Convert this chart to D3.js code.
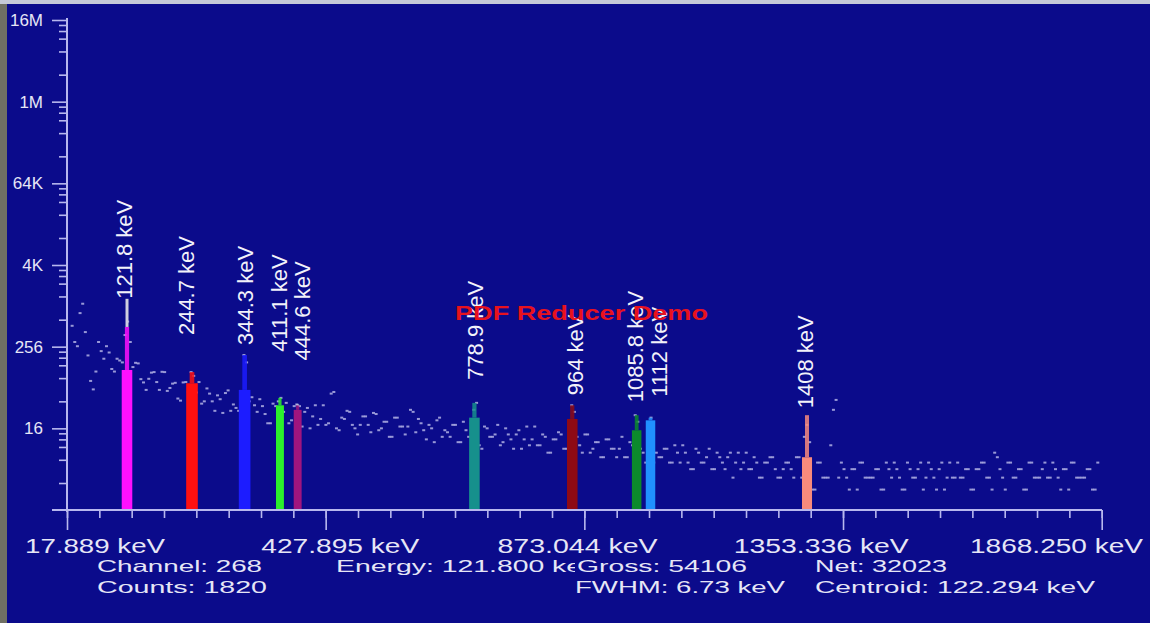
<!DOCTYPE html>
<html>
<head>
<meta charset="utf-8">
<script src="https://cdnjs.cloudflare.com/ajax/libs/d3/7.8.5/d3.min.js"></script>
<style>
  body { margin: 0; background: #0b0b8b; overflow: hidden; }
  text { font-family: "Liberation Sans", Arial, sans-serif; }
</style>
</head>
<body>
<div id="chart"></div>
<script>
var svgWidth = 1150;
var svgHeight = 623;

// spectrum, two interleaved readings (keV start, 10 keV apart)
var spectrumStartA = 18;
var spectrumStartB = 23;
var spectrumStep = 10;
var spectrumCountsA = [
    520, 260, 1100, 190, 60, 300, 170, 210, 110, 160,
    380, 300, 148, 85, 59, 106, 77, 109, 57, 73,
    44, 76, 55, 95, 77, 40, 52, 29, 43, 53,
    29, 32, 42, 150, 46, 28, 34, 19, 37, 40,
    28, 19, 34, 34, 28, 16, 35, 22, 18, 52,
    16, 23, 29, 18, 13, 24, 18, 27, 15, 20,
    12, 23, 17, 13, 30, 14, 19, 11, 16, 21,
    12, 14, 18, 10, 20, 12, 30, 9, 17, 12,
    13, 9, 16, 11, 13, 8, 17, 11, 9, 13,
    7, 11, 14, 8, 6, 28, 9, 13, 7, 10,
    6, 11, 8, 6, 12, 6, 9, 20, 7, 18,
    5, 6, 8, 5, 9, 5, 7, 4, 8, 5,
    6, 4, 7, 5, 6, 3, 7, 5, 4, 6,
    3, 5, 6, 4, 3, 5, 4, 6, 3, 18,
    2, 5, 3, 3, 30, 3, 4, 2, 4, 5,
    3, 3, 4, 2, 5, 3, 4, 2, 5, 3,
    4, 2, 5, 3, 4, 2, 5, 3, 3, 4,
    2, 4, 5, 3, 2, 6, 3, 5, 3, 4,
    2, 5, 3, 3, 5, 3, 4, 2, 4, 5,
    3, 3, 4, 2, 5
];
var spectrumCountsB = [
    300, 800, 420, 80, 110, 220, 260, 120, 170, 150,
    600, 128, 145, 76, 86, 108, 59, 108, 63, 75,
    41, 77, 108, 54, 37, 62, 40, 49, 27, 58,
    36, 29, 193, 40, 35, 43, 26, 19, 34, 45,
    38, 21, 36, 17, 32, 24, 18, 35, 19, 55,
    15, 22, 28, 16, 18, 24, 14, 26, 16, 20,
    12, 23, 17, 17, 28, 22, 15, 18, 10, 23,
    15, 12, 18, 10, 15, 19, 38, 8, 16, 12,
    18, 10, 13, 8, 15, 11, 9, 17, 9, 12,
    7, 11, 13, 8, 35, 12, 7, 13, 8, 10,
    6, 11, 8, 8, 6, 10, 25, 8, 5, 23,
    7, 6, 8, 5, 7, 9, 5, 4, 7, 5,
    8, 4, 6, 4, 7, 5, 4, 7, 4, 5,
    3, 5, 6, 3, 4, 5, 3, 6, 12, 10,
    2, 5, 3, 9, 42, 5, 3, 4, 2, 5,
    3, 3, 4, 2, 4, 5, 3, 2, 4, 3,
    5, 3, 4, 2, 5, 3, 3, 5, 3, 4,
    2, 4, 5, 3, 7, 4, 2, 5, 3, 4,
    2, 5, 3, 4, 3, 5, 3, 4, 2, 5,
    3, 3, 4, 2
];

// marked peaks (ROI)
var peakEnergies = [121.8, 244.7, 344.3, 411.1, 444.6, 778.9, 964, 1085.8, 1112, 1408];
var peakLabels = ["121.8 keV", "244.7 keV", "344.3 keV", "411.1 keV", "444.6 keV",
    "778.9 keV", "964 keV", "1085.8 keV", "1112 keV", "1408 keV"];
var peakBody = [116, 74, 59, 35, 30, 23, 22, 15, 21, 6];
var peakTip = [500, 108, 193, 45, 35, 38, 35, 25, 23, 25];
var peakMax = [1300, 108, 193, 45, 36, 38, 35, 25, 23, 25];
var peakHalfWidth = [10, 11, 11, 7.5, 7.5, 10, 10, 9, 9, 9.5];
var peakColors = ["#ff10ff", "#ff1010", "#1c1cff", "#2cf02c", "#a0157e",
    "#16908c", "#8e0a14", "#0c8a2c", "#2090ff", "#f88a7c"];
var labelDx = [5, 2, 8, 7, 12, 9, 11, 6, 16, 6];
var labelLift = [0, 37, 10, 46, 44, 23, 10, 13, 21, 7];

var yTickValues = [16, 256, 4096, 65536, 1048576, 16777216];
var yTickLabels = ["16", "256", "4K", "64K", "1M", "16M"];
var minorK = [2.5, 5.5, 8.5, 11, 13.5];
var xTickLabels = ["17.889 keV", "427.895 keV", "873.044 keV", "1353.336 keV", "1868.250 keV"];
var xTickWidths = [140, 158, 160, 175, 173];

var infoTop = ["Channel: 268", "Energy: 121.800 keV", "Gross: 54106", "Net: 32023"];
var infoBottom = ["Counts: 1820", "FWHM: 6.73 keV", "Centroid: 122.294 keV"];
var infoTopX = [97, 336, 577, 815];
var infoTopW = [165, 265, 170, 132];
var infoBottomX = [97, 575, 815];
var infoBottomW = [170, 210, 280];

var axisColor = "#b8b8ee";
var textColor = "#e6e6f6";
var bg = "#0b0b8b";

var svg = d3.select("#chart")
    .append("svg")
    .attr("width", svgWidth)
    .attr("height", svgHeight);

svg.append("rect").attr("width", svgWidth).attr("height", svgHeight).attr("fill", bg);
svg.append("rect").attr("width", 7).attr("height", svgHeight).attr("fill", "#707064");
svg.append("rect").attr("width", svgWidth).attr("height", 4).attr("fill", "#c6cad8");

// scales
var xScale = d3.scaleLinear().domain([8.3, 1965.4]).range([67, 1101.7]);
var chScale = d3.scaleLinear().domain([0, 4096]).range([67, 1101.7]);
var yScale = d3.scaleLog().base(16).domain([1, 16777216]).range([510, 20]);

// spectrum dots
var spectrum = [];
spectrumCountsA.forEach((c, i) => spectrum.push({e: spectrumStartA + i * spectrumStep, c: c}));
spectrumCountsB.forEach((c, i) => spectrum.push({e: spectrumStartB + i * spectrumStep, c: c}));

svg.append("g").selectAll("rect")
    .data(spectrum)
    .enter()
    .append("rect")
    .attr("x", d => xScale(d.e) - 1.5)
    .attr("y", d => yScale(d.c) - 1)
    .attr("width", 3)
    .attr("height", 2)
    .attr("fill", "#c8c8f0")
    .attr("opacity", 0.75);

// peaks
var peaks = peakEnergies.map((e, i) => ({
    e: e, label: peakLabels[i], body: peakBody[i], tip: peakTip[i], max: peakMax[i],
    hw: peakHalfWidth[i], color: peakColors[i], dx: labelDx[i], lift: labelLift[i]
}));

var peakGroup = svg.append("g");
peakGroup.selectAll(".wide")
    .data(peaks)
    .enter()
    .append("rect")
    .attr("x", d => xScale(d.e - d.hw))
    .attr("y", d => yScale(d.body))
    .attr("width", d => xScale(d.e + d.hw) - xScale(d.e - d.hw))
    .attr("height", d => yScale(1) - yScale(d.body))
    .attr("fill", d => d.color);
peakGroup.selectAll(".narrow")
    .data(peaks)
    .enter()
    .append("rect")
    .attr("x", d => xScale(d.e - d.hw * 0.4))
    .attr("y", d => yScale(d.tip))
    .attr("width", d => xScale(d.e + d.hw * 0.4) - xScale(d.e - d.hw * 0.4))
    .attr("height", d => yScale(d.body) - yScale(d.tip))
    .attr("fill", d => d.color)
    .attr("opacity", 0.85);
peakGroup.selectAll("line")
    .data(peaks.filter(d => d.max > d.tip))
    .enter()
    .append("line")
    .attr("x1", d => xScale(d.e))
    .attr("x2", d => xScale(d.e))
    .attr("y1", d => yScale(d.max))
    .attr("y2", d => yScale(d.tip))
    .attr("stroke", "#cfcfe0")
    .attr("stroke-width", 3);

peakGroup.selectAll("text")
    .data(peaks)
    .enter()
    .append("text")
    .attr("transform", d => `translate(${xScale(d.e) + d.dx}, ${yScale(d.max) - d.lift}) rotate(-90)`)
    .attr("font-family", "'Open Sans', sans-serif")
    .attr("font-size", 22)
    .attr("fill", "#f2f2fa")
    .text(d => d.label);

// y axis
var minorTicks = [];
[1].concat(yTickValues.slice(0, 5)).forEach(v => minorK.forEach(k => minorTicks.push(v * k)));

var yMinor = svg.append("g")
    .attr("transform", "translate(67, 0)")
    .call(d3.axisLeft(yScale).tickValues(minorTicks).tickSize(8).tickFormat(""));
var yMajor = svg.append("g")
    .attr("transform", "translate(67, 0)")
    .call(d3.axisLeft(yScale).tickValues(yTickValues).tickSize(15).tickPadding(9)
        .tickFormat((d, i) => yTickLabels[i]));

// x axis
var xMinor = svg.append("g")
    .attr("transform", "translate(0, 510)")
    .call(d3.axisBottom(chScale).tickValues(d3.range(0, 4097, 128)).tickSize(8).tickFormat(""));
var xMajor = svg.append("g")
    .attr("transform", "translate(0, 510)")
    .call(d3.axisBottom(chScale).tickValues(d3.range(0, 4097, 1024)).tickSize(20).tickFormat(""));

[yMinor, yMajor, xMinor, xMajor].forEach(g => {
    g.select(".domain").remove();
    g.selectAll("line").attr("stroke", axisColor).attr("stroke-width", 1.6);
});
yMajor.selectAll("text")
    .attr("font-size", 17)
    .attr("fill", textColor)
    .attr("font-family", "'Liberation Sans', Arial, sans-serif");

svg.append("line")
    .attr("x1", 52).attr("x2", 1102).attr("y1", 510).attr("y2", 510)
    .attr("stroke", axisColor).attr("stroke-width", 2);
svg.append("line")
    .attr("x1", 67).attr("x2", 67).attr("y1", yScale(16777216) - 2).attr("y2", 512)
    .attr("stroke", axisColor).attr("stroke-width", 2);

// energy labels under the axis
var labelScale = d3.scalePoint().domain(xTickLabels).range([25, 970]);
svg.append("g").selectAll("text")
    .data(xTickLabels)
    .enter()
    .append("text")
    .attr("x", d => labelScale(d))
    .attr("y", 553)
    .attr("font-size", 20)
    .attr("fill", textColor)
    .attr("textLength", (d, i) => xTickWidths[i])
    .attr("lengthAdjust", "spacingAndGlyphs")
    .text(d => d);

// info lines
var info = svg.append("g")
    .attr("font-size", 16.5)
    .attr("fill", textColor);
infoTop.forEach((t, i) => {
    if (i == 2) {
        info.append("rect").attr("x", infoTopX[i] - 2).attr("y", 556)
            .attr("width", infoTopW[i] + 4).attr("height", 20).attr("fill", bg);
    }
    info.append("text")
        .attr("x", infoTopX[i]).attr("y", 572)
        .attr("textLength", infoTopW[i]).attr("lengthAdjust", "spacingAndGlyphs")
        .text(t);
});
infoBottom.forEach((t, i) => {
    info.append("text")
        .attr("x", infoBottomX[i]).attr("y", 593)
        .attr("textLength", infoBottomW[i]).attr("lengthAdjust", "spacingAndGlyphs")
        .text(t);
});

// watermark
svg.append("text")
    .attr("x", 455)
    .attr("y", 320)
    .attr("font-size", 21)
    .attr("font-weight", "bold")
    .attr("fill", "#e8121e")
    .attr("textLength", 253)
    .attr("lengthAdjust", "spacingAndGlyphs")
    .text("PDF Reducer Demo");
</script>
</body>
</html>
